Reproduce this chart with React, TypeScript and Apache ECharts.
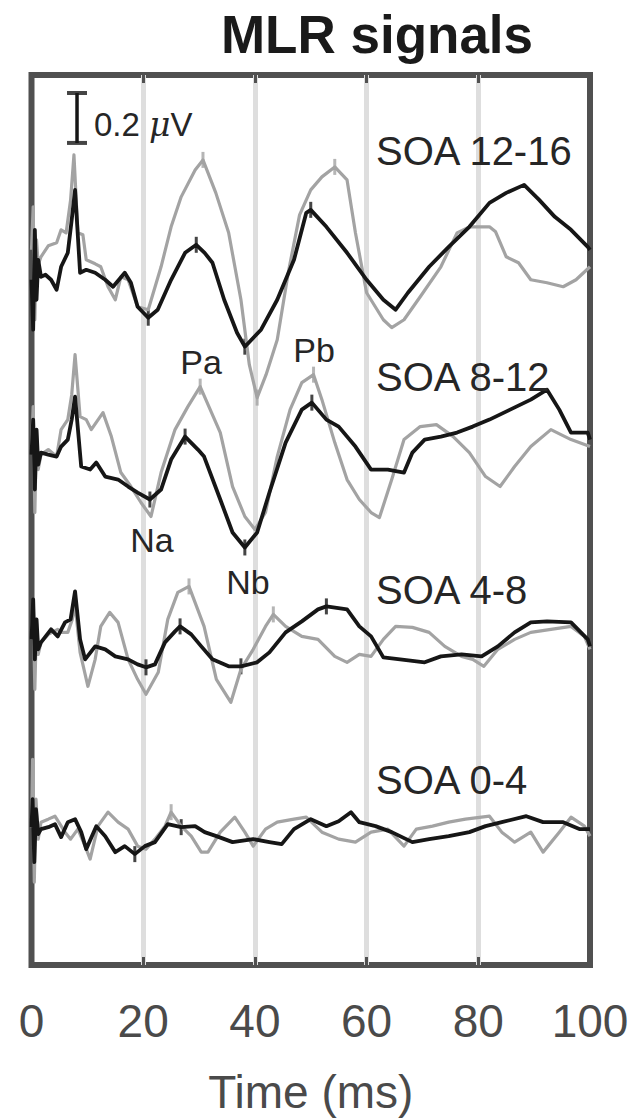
import { useEffect, useRef } from "react";
import * as echarts from "echarts";

// ---- data (time in ms, amplitude in µV relative to each trace's baseline) ----
const TIME_TICKS = [0, 20, 40, 60, 80, 100];
const CONDITIONS = ["SOA 12-16", "SOA 8-12", "SOA 4-8", "SOA 0-4"];
const OFFSETS_UV = [2.764, 2.044, 1.304, 0.552];
const SCALE_BAR_UV = 0.2;
const SCALE_BAR_T = 8.15;

const GREY_12_16: number[][] = [
  [0, 0.1], [0.3, 0.272], [0.6, -0.18], [0.9, 0.14], [1.2, 0.04], [1.7, 0.072], [3, 0.116], [4.5, 0.128],
  [5.3, 0.18], [6.2, 0.168], [7, 0.3], [7.6, 0.48], [8.3, 0.168], [9.2, 0.16], [9.8, 0.06], [11.4, 0.044],
  [12.4, 0.032], [13.7, -0.048], [15, -0.1], [16, -0.008], [17.3, -0.02], [19, -0.128], [20.9, -0.14],
  [23.2, 0.032], [25, 0.192], [26.8, 0.312], [29.3, 0.42], [30.7, 0.46], [33, 0.328], [35.3, 0.168],
  [37.5, -0.1], [39, -0.36], [40.4, -0.492], [42, -0.4], [44, -0.26], [46, 0.012], [48, 0.24], [50, 0.34],
  [52, 0.392], [54.3, 0.432], [56.5, 0.38], [58, 0.168], [60, -0.072], [63, -0.18], [64.5, -0.212],
  [66.7, -0.18], [69.6, -0.088], [73.3, 0.032], [76.2, 0.168], [78.4, 0.192], [82, 0.192], [83.1, 0.172],
  [85, 0.072], [87.2, 0.048], [89.4, -0.02], [92.3, -0.032], [95.2, -0.048], [97.5, -0.02], [100, 0.032],
];
const BLACK_12_16: number[][] = [
  [0, -0.02], [0.3, -0.22], [0.6, 0.18], [0.9, -0.1], [1.2, 0.06], [1.7, -0.008], [2.5, 0], [3.5, -0.02],
  [4.5, -0.06], [5.3, 0.032], [6.5, 0.088], [7.2, 0.22], [7.8, 0.34], [8.7, 0.008], [9.8, 0.02], [11.4, 0.008],
  [13.2, -0.02], [14.6, -0.048], [16.7, 0.008], [17.8, -0.032], [19, -0.128], [20.9, -0.172], [22.6, -0.14],
  [25, -0.02], [27.5, 0.088], [29.5, 0.12], [31, 0.088], [32.4, 0.048], [34.5, -0.1], [36.8, -0.232],
  [38.2, -0.288], [41.1, -0.22], [44, -0.1], [47, 0.06], [49.2, 0.248], [50, 0.26], [52.8, 0.192],
  [56.5, 0.088], [60, -0.02], [63, -0.1], [65.2, -0.14], [67.4, -0.072], [71.2, 0.032], [74.7, 0.112],
  [78.4, 0.192], [82, 0.288], [85, 0.328], [88.2, 0.36], [90.9, 0.3], [93.7, 0.232], [96.6, 0.18],
  [99.6, 0.112], [100, 0.1],
];
const GREY_8_12: number[][] = [
  [0, 0.02], [0.3, 0.192], [0.6, -0.232], [0.9, 0.1], [1.2, -0.06], [1.7, 0], [3, 0.02], [4.5, -0.008],
  [5.3, 0.1], [6.5, 0.14], [7.2, 0.24], [7.8, 0.4], [8.7, 0.152], [9.8, 0.14], [10.7, 0.1], [12.8, 0.168],
  [14.3, 0.072], [16, -0.072], [17.8, -0.128], [19.6, -0.192], [21.4, -0.248], [23.2, -0.072], [25.7, 0.1],
  [28, 0.192], [30.2, 0.272], [33.8, 0.088], [36, -0.128], [38.2, -0.248], [40, -0.3], [41.9, -0.232],
  [44, -0.008], [46.3, 0.18], [48.4, 0.288], [50.5, 0.32], [52, 0.22], [54.3, 0.048], [56.5, -0.1],
  [58.7, -0.18], [60.8, -0.232], [62.3, -0.252], [64.5, -0.1], [66.7, 0.06], [69.6, 0.112], [72.5, 0.12],
  [75.5, 0.072], [78.4, 0.008], [81.3, -0.088], [83.9, -0.128], [86.5, -0.048], [89.4, 0.032], [93, 0.1],
  [96.6, 0.06], [100, 0.032],
];
const BLACK_8_12: number[][] = [
  [0, 0], [0.3, 0.14], [0.6, -0.14], [0.9, 0.1], [1.2, -0.04], [1.7, 0.008], [3, 0], [4.5, -0.008],
  [5.3, 0.032], [6.5, 0.06], [7.2, 0.14], [7.8, 0.232], [8.9, -0.048], [10.5, -0.06], [11.6, -0.032],
  [13.2, -0.088], [15.5, -0.1], [17.3, -0.128], [19, -0.152], [21.2, -0.18], [23.2, -0.14], [25, -0.02],
  [27.5, 0.072], [29.8, 0.02], [30.9, -0.008], [33.8, -0.18], [36, -0.312], [38.2, -0.372], [40.4, -0.312],
  [42.6, -0.152], [45.5, 0.048], [48.4, 0.18], [50.2, 0.208], [52.8, 0.14], [55, 0.112], [58, 0.032],
  [60.8, -0.06], [63.8, -0.06], [66.7, -0.072], [68.2, 0.008], [70.4, 0.06], [73.3, 0.072], [76.2, 0.088],
  [79, 0.112], [82, 0.14], [85.7, 0.18], [89.4, 0.22], [92.3, 0.26], [94.5, 0.18], [96.6, 0.088],
  [99.6, 0.088], [100, 0.06],
];
const GREY_4_8: number[][] = [
  [0, 0], [0.3, 0.132], [0.6, -0.2], [0.9, 0.08], [1.2, -0.06], [1.7, -0.012], [3, 0.02], [4.7, 0.04],
  [5.3, 0.028], [6.5, 0.028], [7.3, 0.08], [7.8, 0.14], [8.7, -0.052], [10.1, -0.188], [11.4, -0.08],
  [12.4, 0.052], [14, 0.108], [15.5, 0.068], [17.3, -0.08], [19, -0.16], [20.5, -0.22], [22.7, -0.132],
  [24.4, 0.08], [26.2, 0.188], [28.2, 0.212], [30.9, 0.052], [33.1, -0.16], [35.7, -0.252], [37.5, -0.12],
  [39.7, -0.04], [41.9, 0.052], [43.3, 0.1], [45.5, 0.052], [48.4, 0.012], [51.3, 0], [54.3, -0.068],
  [56.5, -0.092], [58.7, -0.06], [60.8, -0.068], [63, 0], [65.2, 0.052], [68.2, 0.048], [71.2, 0.028],
  [74, -0.028], [77, -0.068], [79, -0.08], [81, -0.108], [83.5, -0.04], [86.5, 0], [89.4, 0.028],
  [93, 0.04], [96.6, 0.052], [99, 0.012], [100, -0.04],
];
const BLACK_4_8: number[][] = [
  [0, 0], [0.3, 0.16], [0.6, -0.08], [0.9, 0.08], [1.2, -0.04], [1.7, -0.012], [3.5, 0.04], [4.7, 0.012],
  [6, 0.068], [7, 0.08], [7.8, 0.192], [8.7, 0], [9.6, -0.08], [11.4, -0.028], [13.2, -0.04], [15, -0.068],
  [17.3, -0.08], [19, -0.1], [20.5, -0.112], [22.1, -0.1], [23.9, -0.012], [25.7, 0.032], [26.6, 0.052],
  [28.6, 0.02], [30.4, -0.028], [32.4, -0.08], [35.3, -0.108], [37.5, -0.108], [40.4, -0.092],
  [42.6, -0.052], [45.5, 0.028], [48.4, 0.072], [51.3, 0.12], [52.8, 0.132], [56.5, 0.12], [58.7, 0.052],
  [60.8, 0.012], [63, -0.072], [66, -0.08], [70.4, -0.092], [73.3, -0.068], [77, -0.06], [80.6, -0.068],
  [83.5, -0.028], [86.5, 0.028], [89.4, 0.068], [92.3, 0.072], [96.6, 0.068], [99.6, 0], [100, -0.028],
];
const GREY_0_4: number[][] = [
  [0, 0], [0.2, 0.272], [0.5, -0.22], [0.8, 0.112], [1.2, -0.048], [1.7, 0.02], [3, 0.032], [4.2, 0.044],
  [6, -0.02], [7, -0.048], [8.3, -0.008], [9.6, -0.076], [10.5, -0.128], [11.9, 0.004], [13.7, 0.06],
  [15.5, 0.02], [17.3, -0.008], [19, -0.076], [20.5, -0.088], [22.1, -0.048], [23.9, 0.004], [25, 0.06],
  [26.8, 0.004], [28.6, -0.036], [30.4, -0.1], [31.6, -0.1], [33.8, -0.02], [36.4, 0.04], [38.2, -0.02],
  [39.7, -0.076], [41.9, -0.008], [44, 0.02], [47, 0.032], [49.2, 0.04], [52, -0.02], [55, -0.048],
  [58, -0.06], [60.8, -0.02], [63.8, -0.008], [66.7, -0.076], [68.9, -0.008], [71.8, 0.004], [74.7, 0.02],
  [77.7, 0.032], [82, 0.044], [84.2, -0.02], [86.5, -0.06], [89.4, -0.02], [91.6, -0.1], [94.5, -0.02],
  [96.6, 0.04], [99, 0.004], [100, -0.036],
];
const BLACK_0_4: number[][] = [
  [0, 0], [0.2, 0.112], [0.5, -0.14], [0.8, 0.072], [1.2, -0.028], [1.7, -0.008], [3, 0], [4.2, 0.012],
  [5.3, -0.04], [6.5, 0.02], [7.8, 0.032], [8.9, -0.02], [9.8, -0.088], [11.6, 0.004], [13.2, -0.036],
  [15, -0.1], [16.7, -0.076], [18.5, -0.108], [20.3, -0.076], [22.1, -0.06], [24.4, 0.012], [26.8, 0],
  [29.3, 0.004], [31, -0.02], [33.1, -0.036], [36, -0.06], [39.7, -0.048], [42.6, -0.06], [44.8, -0.068],
  [47, -0.008], [50, 0.032], [52.8, 0.004], [55, 0.024], [57.2, 0.06], [58.7, 0.02], [61.6, 0.004],
  [64.5, -0.02], [68.2, -0.06], [71.2, -0.048], [74.7, -0.036], [78.4, -0.02], [81.3, 0.004], [84.2, 0.02],
  [88.6, 0.044], [91.6, 0.02], [95.2, 0.02], [98.2, -0.008], [100, -0.008],
];

const GREY_TRACES = [GREY_12_16, GREY_8_12, GREY_4_8, GREY_0_4];
const BLACK_TRACES = [BLACK_12_16, BLACK_8_12, BLACK_4_8, BLACK_0_4];
// latencies (ms) of the marked components
const GREY_MARKS = [[30.7, 40.4, 54.3], [30.2, 50.5], [28.2, 43.3], [25]];
const BLACK_MARKS = [[20.9, 29.5, 38.2, 50], [21.2, 27.5, 38.2, 50.2], [20.5, 26.6, 37.5, 52.8], [18.5, 26.8]];

const GREY = "#a3a3a3";
const BLACK = "#161616";
const FONT = "'Liberation Sans', Arial, Helvetica, sans-serif";

function valueAt(trace: number[][], t: number): number {
  for (let i = 1; i < trace.length; i++) {
    const [t0, v0] = trace[i - 1];
    const [t1, v1] = trace[i];
    if (t >= t0 && t <= t1) return v0 + ((v1 - v0) * (t - t0)) / (t1 - t0);
  }
  return trace[trace.length - 1][1];
}

export default function App() {
  const ref = useRef<HTMLDivElement>(null);
  useEffect(() => {
    if (!ref.current) return;
    const chart = echarts.init(ref.current, undefined, { renderer: "svg" });
    const series: any[] = [];
    const addTrace = (trace: number[][], marks: number[], off: number, color: string, width: number, name: string) => {
      series.push({
        type: "line",
        name,
        data: trace.map(([t, v]) => [t, v + off]),
        showSymbol: false,
        symbol: "none",
        lineStyle: { color, width, join: "round" },
        silent: true,
      });
      series.push({
        type: "scatter",
        data: marks.map((t) => [t, valueAt(trace, t) + off]),
        symbol: "rect",
        symbolSize: [3, 16],
        itemStyle: { color },
        silent: true,
      });
    };
    for (let i = 0; i < CONDITIONS.length; i++) {
      addTrace(GREY_TRACES[i], GREY_MARKS[i], OFFSETS_UV[i], GREY, 3.2, CONDITIONS[i] + " grey");
    }
    for (let i = 0; i < CONDITIONS.length; i++) {
      addTrace(BLACK_TRACES[i], BLACK_MARKS[i], OFFSETS_UV[i], BLACK, 3.8, CONDITIONS[i] + " black");
    }
    // 0.2 µV scale bar
    const barBottom = 3.292;
    series.push({
      type: "line",
      data: [[SCALE_BAR_T, barBottom], [SCALE_BAR_T, barBottom + SCALE_BAR_UV]],
      showSymbol: false,
      symbol: "none",
      lineStyle: { color: BLACK, width: 3.5 },
      silent: true,
    });
    series.push({
      type: "scatter",
      data: [[SCALE_BAR_T, barBottom], [SCALE_BAR_T, barBottom + SCALE_BAR_UV]],
      symbol: "rect",
      symbolSize: [20, 4],
      itemStyle: { color: BLACK },
      silent: true,
    });

    const texts: any[] = [
      { text: "MLR signals", x: 377, y: 34, size: 53, weight: "bold", align: "center", color: "#1a1a1a" },
      { text: "Pa", x: 201, y: 362, size: 34, align: "center" },
      { text: "Pb", x: 314, y: 350, size: 34, align: "center" },
      { text: "Na", x: 152, y: 540, size: 34, align: "center" },
      { text: "Nb", x: 248, y: 582, size: 34, align: "center" },
      { text: CONDITIONS[0], x: 376, y: 151, size: 40, align: "left" },
      { text: CONDITIONS[1], x: 376, y: 377, size: 40, align: "left" },
      { text: CONDITIONS[2], x: 376, y: 590, size: 40, align: "left" },
      { text: CONDITIONS[3], x: 376, y: 780, size: 40, align: "left" },
    ];
    const graphic: any[] = texts.map((d) => ({
      type: "text",
      x: d.x,
      y: d.y,
      z: 100,
      silent: true,
      style: {
        text: d.text,
        fontSize: d.size,
        fontWeight: d.weight || "normal",
        fontFamily: FONT,
        fill: d.color || "#262626",
        align: d.align,
        verticalAlign: "middle",
      },
    }));
    graphic.push({
      type: "text",
      x: 94,
      y: 124,
      z: 100,
      silent: true,
      style: {
        text: "0.2 {mu|\u03bc}V",
        fontSize: 33,
        fontFamily: FONT,
        fill: "#262626",
        align: "left",
        verticalAlign: "middle",
        rich: {
          mu: { fontSize: 33, fontStyle: "italic", fontFamily: "'DejaVu Serif', serif", fill: "#262626" },
        },
      },
    });

    const xCommon = {
      type: "value",
      min: TIME_TICKS[0],
      max: TIME_TICKS[TIME_TICKS.length - 1],
      interval: 20,
      axisLine: { show: false },
      axisTick: { show: true, inside: true, length: 8, lineStyle: { color: "#505050", width: 3 } },
    };
    chart.setOption({
      animation: false,
      backgroundColor: "#ffffff",
      grid: {
        left: 31.5,
        right: 43,
        top: 75,
        bottom: 154,
        show: true,
        borderColor: "#505050",
        borderWidth: 6,
        backgroundColor: "transparent",
      },
      xAxis: [
        {
          ...xCommon,
          position: "bottom",
          axisLabel: { show: true, fontSize: 46, color: "#4a4a4a", fontFamily: FONT, margin: 33 },
          splitLine: {
            show: true,
            showMinLine: false,
            showMaxLine: false,
            lineStyle: { color: "#dedede", width: 5 },
          },
          name: "Time (ms)",
          nameLocation: "middle",
          nameGap: 104,
          nameTextStyle: { fontSize: 46, color: "#4a4a4a", fontFamily: FONT },
        },
        {
          ...xCommon,
          position: "top",
          axisLabel: { show: false },
          splitLine: { show: false },
        },
      ],
      yAxis: {
        type: "value",
        min: 0,
        max: 3.564,
        show: false,
        splitLine: { show: false },
      },
      series,
      graphic,
    });
    return () => chart.dispose();
  }, []);
  return (
    <div
      ref={ref}
      style={{ position: "fixed", left: 0, top: 0, width: 633, height: 1120, background: "#fff" }}
    />
  );
}
